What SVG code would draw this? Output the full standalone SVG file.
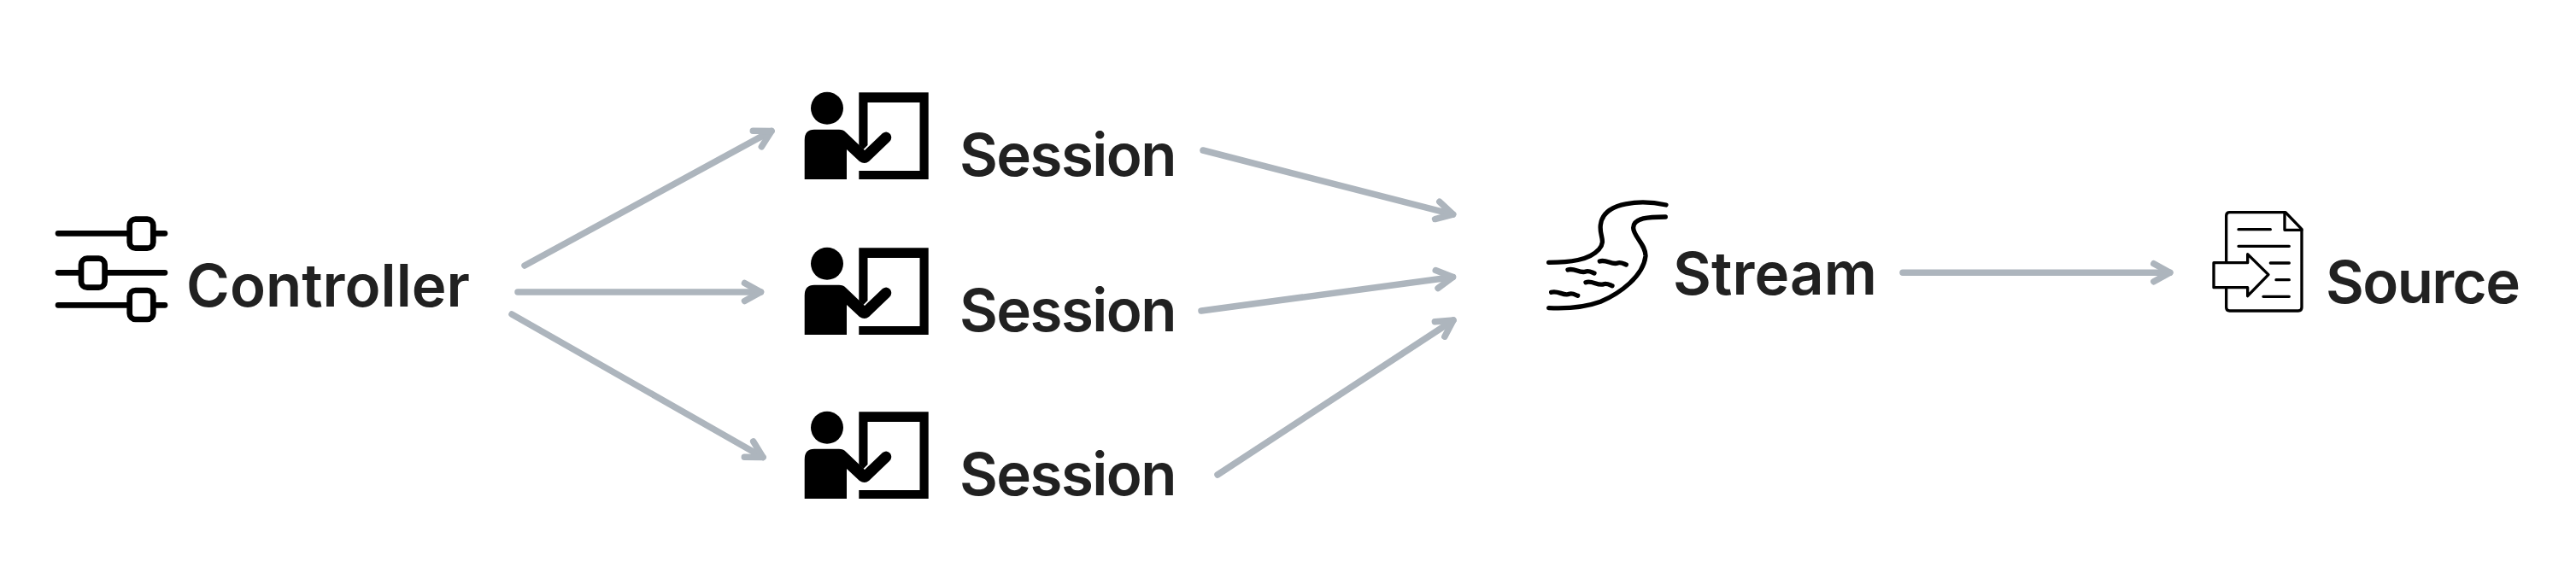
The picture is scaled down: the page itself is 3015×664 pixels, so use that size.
<svg xmlns="http://www.w3.org/2000/svg" width="3015" height="664" viewBox="0 0 3015 664">
<style>
text{font-family:Inter,"Liberation Sans",sans-serif;font-weight:600;font-size:69px;fill:#212121}
.a{fill:none;stroke:#adb5bd;stroke-width:7.500;stroke-linecap:round;stroke-linejoin:round}
.k{fill:none;stroke:#000;stroke-linecap:round;stroke-linejoin:round}
</style>
<defs>
<marker id="h" markerUnits="userSpaceOnUse" markerWidth="40" markerHeight="40" refX="30" refY="20" orient="auto" overflow="visible"><path d="M11,9.500L30,20L11,30.500" fill="none" stroke="#adb5bd" stroke-width="7.500" stroke-linecap="round" stroke-linejoin="round"/></marker>
<g id="si">
<circle cx="48" cy="36.700" r="19"/>
<path d="M85.300,18.300H166.700V120H85.300V110H156.500V30H95.500V80L90.500,85L85.300,80Z"/>
<path d="M21.700,120V74Q21.700,61.700 33,61.700H62Q67,61.700 70,65L92,86L113,66Q118,62.500 122,67Q125,72 121,76L97,99Q92,103 86,99L71,85V120Z"/>
</g>
</defs>
<g id="connectors">
<path class="a" marker-end="url(#h)" d="M614,311L903,153.400"/>
<path class="a" marker-end="url(#h)" d="M606,342L890.500,342"/>
<path class="a" marker-end="url(#h)" d="M599,368L893,535.500"/>
<path class="a" marker-end="url(#h)" d="M1408,176L1700.600,251.100"/>
<path class="a" marker-end="url(#h)" d="M1406,364L1700.500,324.500"/>
<path class="a" marker-end="url(#h)" d="M1425,556L1701,375"/>
<path class="a" marker-end="url(#h)" d="M2227,319.300L2539.800,319.300"/>
</g>
<g id="controller">
<g class="k" stroke-width="6.700">
<path d="M68,273.300H148.500M182.500,273.300H193M68,319.300H92M126,319.300H193M68,357.300H148.500M182.500,357.300H193"/>
<rect x="151.700" y="256.700" width="27.600" height="34" rx="7"/>
<rect x="95" y="302.700" width="27.600" height="34" rx="7"/>
<rect x="151.700" y="340" width="27.600" height="34" rx="7"/>
</g>
<text x="218" y="359" textLength="332">Controller</text>
</g>
<g id="session1"><use href="#si" x="920" y="90"/><text x="1123" y="206" textLength="254.500">Session</text></g>
<g id="session2"><use href="#si" x="920" y="272"/><text x="1123" y="388" textLength="254.500">Session</text></g>
<g id="session3"><use href="#si" x="920" y="464"/><text x="1123" y="580" textLength="254.500">Session</text></g>
<g id="stream">
<g class="k" stroke-width="16" transform="translate(1780,210) scale(.3333)">
<path d="M510,90C430,72 290,75 280,160C275,200 300,215 275,245C240,285 170,292 98,292"/>
<path d="M508,132C450,132 395,135 395,170C395,200 440,230 438,270C430,340 350,400 280,430C220,452 160,455 98,452"/>
<path d="M277,288C300,280 320,302 340,294C350,290 360,296 370,300"/>
<path d="M165,318C188,310 208,332 228,324C238,320 248,326 258,330"/>
<path d="M228,362C251,354 271,376 291,368C301,364 311,370 321,374"/>
<path d="M107,397C130,389 150,411 170,403C180,399 190,405 200,409"/>
</g>
<text x="1958" y="345" textLength="239">Stream</text>
</g>
<g id="source">
<g class="k" stroke-width="10" transform="translate(2560,230) scale(.3333)">
<path d="M137,230V68Q137,56 149,56H345L402,115V390Q402,402 390,402H149Q137,402 137,390V320"/>
<path d="M342,58V118H402"/>
<path d="M180,116H292M180,175H358M292,234H358M312,293H358M267,352H358"/>
<path d="M93,233H212V203L285,275L212,350V320H93Z"/>
</g>
<text x="2722" y="355" textLength="228">Source</text>
</g>
</svg>
